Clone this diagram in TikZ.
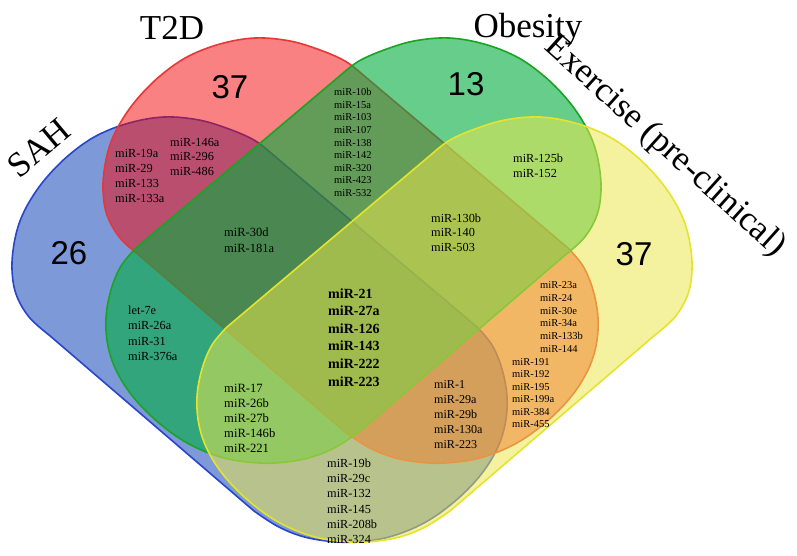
\documentclass[tikz,border=0pt]{standalone}
\usepackage{fontspec}
\setmainfont{Liberation Serif}
\newfontfamily\numfont{Liberation Sans}
\definecolor{sahfill}{RGB}{40,85,190}
\definecolor{sahline}{RGB}{40,70,200}
\definecolor{tdfill}{RGB}{245,5,5}
\definecolor{tdline}{RGB}{232,55,55}
\definecolor{obfill}{RGB}{0,173,63}
\definecolor{obline}{RGB}{25,165,35}
\definecolor{exfill}{RGB}{236,232,75}
\definecolor{exline}{RGB}{228,228,45}
\newcommand{\vennblob}[1]{%
  \draw[#1] plot[smooth,tension=0.6] coordinates {(140,256) (120,238) (107,215) (103,190) (105,165) (111,142) (122,120) (138,98) (160,76) (187,57) (220,44) (255,38) (290,41) (320,50) (345,61) (362,74)}
  -- plot[smooth,tension=0.6] coordinates {(568,248) (583,266) (593,290) (598,318) (596,346) (587,372) (570,398) (545,423) (515,444) (480,458) (445,463) (418,462) (392,457) (368,447) (345,432)}
  -- cycle;}
\begin{document}
\begin{tikzpicture}[x=1pt,y=-1pt,
  setshape/.style={line width=1.6pt},
  lbl/.style={font=\fontsize{35}{40}\selectfont, inner sep=0pt},
  num/.style={font=\numfont\fontsize{33}{36}\selectfont, inner sep=0pt},
  mir/.style={font=\fontsize{12.3}{15.2}\selectfont, align=left, anchor=north west, inner sep=0pt},
  mirs/.style={font=\fontsize{10.5}{12.6}\selectfont, align=left, anchor=north west, inner sep=0pt},
  mirb/.style={font=\bfseries\fontsize{14}{17.6}\selectfont, align=left, anchor=north west, inner sep=0pt}]
\fill[white] (0,0) rectangle (797,555);
\useasboundingbox (0,0) rectangle (797,555);
% SAH (blue)
\begin{scope}[shift={(-91,79)}]
  \vennblob{setshape, draw=sahline, fill=sahfill, fill opacity=0.6}
\end{scope}
% T2D (red)
\vennblob{setshape, draw=tdline, fill=tdfill, fill opacity=0.5}
% Obesity (green)
\begin{scope}[xshift=704pt, xscale=-1]
  \vennblob{setshape, draw=obline, fill=obfill, fill opacity=0.6}
\end{scope}
% Exercise (yellow)
\begin{scope}[xshift=704pt, xscale=-1, shift={(-91,79)}]
  \vennblob{setshape, draw=exline, fill=exfill, fill opacity=0.53}
\end{scope}
% set labels
\node[lbl, rotate=40] (lsah) at (39,148) {SAH};
\node[lbl] (lt2d) at (172,28) {T2D};
\node[lbl] (lob) at (528,29.5) {Obesity};
\node[lbl, rotate=-42] (lex) at (665,147) {Exercise (pre-clinical)};
% counts
\node[num] (n1) at (230,87) {37};
\node[num] (n2) at (466,84) {13};
\node[num] (n3) at (69,253) {26};
\node[num] (n4) at (634,254) {37};
% miRNA lists
\node[mir] (a1) at (115,148.7) {miR-19a\\miR-29\\miR-133\\miR-133a};
\node[mir, font=\fontsize{12.3}{14.7}\selectfont] (a2) at (170,137.7) {miR-146a\\miR-296\\miR-486};
\node[mirs] (a3) at (334,88.3) {miR-10b\\miR-15a\\miR-103\\miR-107\\miR-138\\miR-142\\miR-320\\miR-423\\miR-532};
\node[mir, font=\fontsize{12.5}{15.5}\selectfont] (a4) at (224,227.7) {miR-30d\\miR-181a};
\node[mir, font=\fontsize{12.3}{15}\selectfont] (a5) at (513,153.7) {miR-125b\\miR-152};
\node[mir, font=\fontsize{12.3}{14.5}\selectfont] (a6) at (431,213.7) {miR-130b\\miR-140\\miR-503};
\node[mir, font=\fontsize{12.3}{15.3}\selectfont] (a7) at (128,305.7) {let-7e\\miR-26a\\miR-31\\miR-376a};
\node[mirb] (a8) at (328,288.1) {miR-21\\miR-27a\\miR-126\\miR-143\\miR-222\\miR-223};
\node[mir, font=\fontsize{12.6}{15.2}\selectfont] (a9) at (224,383.6) {miR-17\\miR-26b\\miR-27b\\miR-146b\\miR-221};
\node[mir] (a10) at (327,458.7) {miR-19b\\miR-29c\\miR-132\\miR-145\\miR-208b\\miR-324};
\node[mir, font=\fontsize{12.1}{15}\selectfont] (a11) at (434,379.8) {miR-1\\miR-29a\\miR-29b\\miR-130a\\miR-223};
\node[mirs, font=\fontsize{10.5}{12.8}\selectfont] (a12) at (540,281.3) {miR-23a\\miR-24\\miR-30e\\miR-34a\\miR-133b\\miR-144};
\node[mirs, font=\fontsize{10.5}{12.4}\selectfont] (a13) at (512,358.3) {miR-191\\miR-192\\miR-195\\miR-199a\\miR-384\\miR-455};
\end{tikzpicture}
\end{document}
